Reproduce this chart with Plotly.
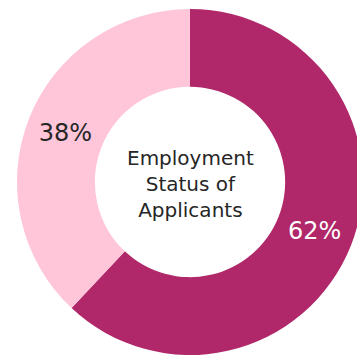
import plotly.graph_objects as go

labels = ["Employed", "Not employed"]
values = [62, 38]
colors = ["#B0276A", "#FFC6D9"]
text_colors = ["#FFFFFF", "#262626"]
center_title = "Employment<br>Status of<br>Applicants"

W, H = 372, 358
fig = go.Figure(go.Pie(
    labels=labels,
    values=values,
    hole=0.55,
    sort=False,
    direction="clockwise",
    rotation=0,
    marker=dict(colors=colors, line=dict(width=0)),
    texttemplate="%{percent:.0%}",
    textposition="inside",
    insidetextorientation="horizontal",
    textfont=dict(family="DejaVu Sans", size=24, color=text_colors),
    domain=dict(x=[17 / W, 363 / W], y=[3 / H, 349 / H]),
    hoverinfo="skip",
    showlegend=False,
))
fig.add_annotation(
    text=center_title, x=190 / W, y=(H - 184) / H, xref="paper", yref="paper",
    showarrow=False, font=dict(family="DejaVu Sans", size=20, color="#262626"),
    align="center",
)
fig.update_layout(
    width=W, height=H, margin=dict(l=0, r=0, t=0, b=0),
    paper_bgcolor="white", plot_bgcolor="white",
    uniformtext=dict(minsize=24, mode="show"),
)
fig.write_html("out.html")
